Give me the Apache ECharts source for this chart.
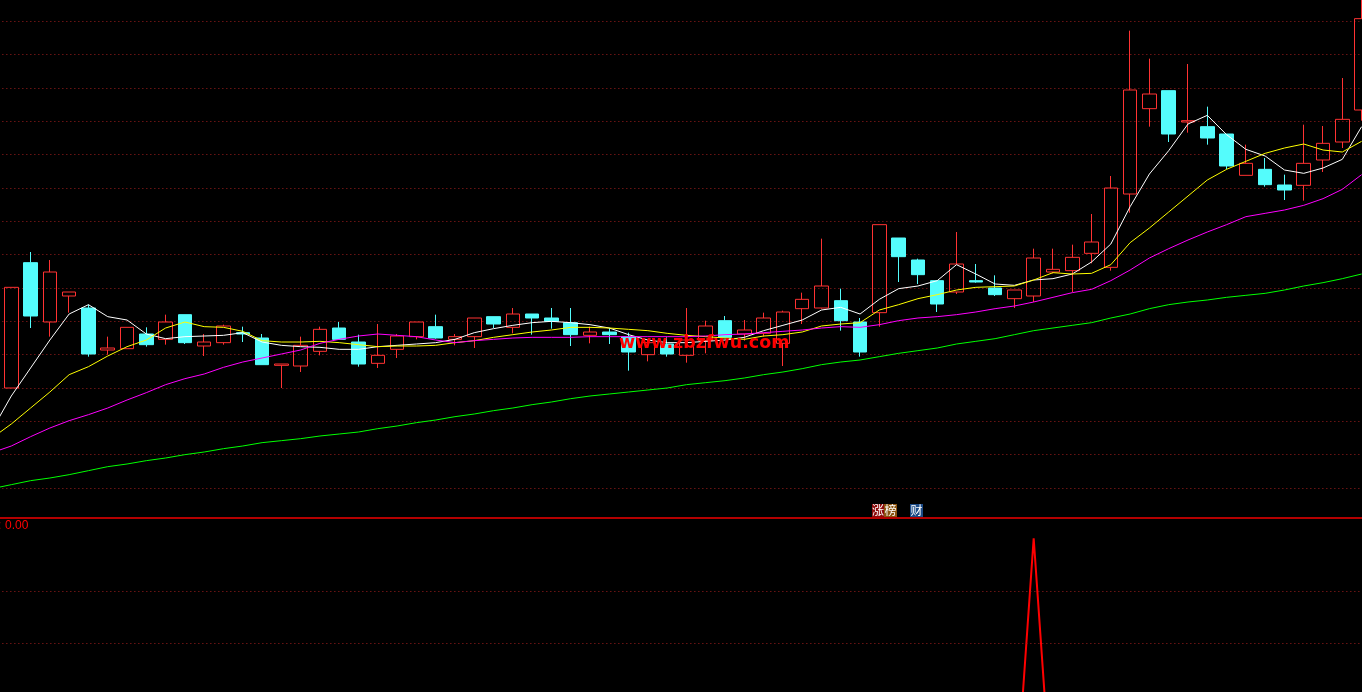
<!DOCTYPE html>
<html>
<head>
<meta charset="utf-8">
<script src="https://cdn.jsdelivr.net/npm/echarts@6/dist/echarts.min.js"></script>
<style>
html,body{margin:0;padding:0;background:#000;}
#chart{width:1362px;height:692px;}
</style>
</head>
<body>
<div id="chart"></div>
<script>
// bar labels (first bar is the one just left of the visible area, only its MA values show)
const categories = ['b0','b1','b2','b3','b4','b5','b6','b7','b8','b9','b10','b11','b12','b13','b14','b15','b16','b17','b18','b19','b20','b21','b22','b23','b24','b25','b26','b27','b28','b29','b30','b31','b32','b33','b34','b35','b36','b37','b38','b39','b40','b41','b42','b43','b44','b45','b46','b47','b48','b49','b50','b51','b52','b53','b54','b55','b56','b57','b58','b59','b60','b61','b62','b63','b64','b65','b66','b67','b68','b69','b70','b71'];

const openPrices = [null,11.50,13.38,12.49,12.88,12.70,12.07,12.09,12.31,12.23,12.60,12.13,12.18,12.33,12.25,11.84,11.83,12.05,12.40,12.19,11.87,12.08,12.27,12.42,12.23,12.27,12.57,12.41,12.61,12.55,12.48,12.29,12.34,12.27,12.00,12.16,11.99,12.21,12.51,12.31,12.32,12.17,12.69,12.70,12.81,12.49,12.63,13.75,13.42,13.11,12.94,13.11,13.00,12.84,12.88,13.24,13.26,13.52,13.31,14.41,15.69,15.96,15.49,15.42,15.31,14.69,14.78,14.545,14.54,14.92,15.19,15.67];
const closePrices = [null,13.01,12.58,13.24,12.94,12.01,12.10,12.41,12.15,12.49,12.18,12.19,12.43,12.31,11.85,11.86,12.14,12.38,12.23,11.86,11.99,12.28,12.49,12.25,12.27,12.55,12.46,12.61,12.55,12.50,12.30,12.34,12.30,12.04,12.18,12.01,12.22,12.43,12.26,12.37,12.55,12.64,12.83,13.03,12.51,12.04,13.95,13.47,13.20,12.76,13.36,13.09,12.90,12.97,13.45,13.28,13.46,13.69,14.50,15.97,15.91,15.31,15.51,15.25,14.83,14.87,14.55,14.47,14.87,15.17,15.53,17.04];
const lowPrices = [null,11.50,12.40,12.27,12.63,11.97,12.00,12.09,12.12,12.15,12.16,11.98,12.15,12.19,11.85,11.50,11.74,11.99,12.22,11.82,11.80,11.95,12.23,12.24,12.14,12.10,12.40,12.32,12.30,12.39,12.13,12.17,12.16,11.76,11.90,11.97,11.88,12.02,12.26,12.21,12.27,11.83,12.46,12.69,12.36,11.97,12.42,13.09,13.06,12.64,12.91,13.08,12.88,12.70,12.79,13.22,12.94,13.37,13.26,14.13,15.42,15.19,15.33,15.15,14.78,14.69,14.52,14.32,14.31,14.74,15.10,15.51];
const highPrices = [null,13.01,13.54,13.42,12.94,12.75,12.27,12.41,12.41,12.60,12.60,12.31,12.45,12.42,12.31,11.86,12.27,12.42,12.49,12.30,12.46,12.31,12.49,12.60,12.31,12.55,12.57,12.70,12.61,12.70,12.70,12.42,12.40,12.33,12.22,12.26,12.70,12.51,12.58,12.52,12.63,12.66,12.93,13.74,12.99,12.55,13.95,13.75,13.44,13.11,13.84,13.36,13.19,12.97,13.59,13.59,13.65,14.11,14.68,16.86,16.44,15.96,16.36,15.72,15.31,15.15,14.95,14.70,15.45,15.43,16.15,17.35];

const ma5 = [10.87,11.38,11.80,12.22,12.61,12.75,12.57,12.52,12.31,12.24,12.27,12.28,12.29,12.33,12.19,12.14,12.12,12.11,12.08,12.08,12.12,12.14,12.16,12.18,12.23,12.33,12.39,12.44,12.48,12.50,12.48,12.45,12.40,12.30,12.22,12.18,12.18,12.20,12.22,12.26,12.36,12.44,12.52,12.67,12.71,12.61,12.83,12.99,13.03,13.11,13.35,13.21,13.06,13.04,13.12,13.14,13.21,13.39,13.66,14.22,14.71,15.06,15.46,15.59,15.30,15.08,14.98,14.77,14.72,14.80,14.93,15.42];
const ma10 = [10.75,10.96,11.20,11.44,11.70,11.82,11.98,12.12,12.22,12.40,12.49,12.42,12.41,12.35,12.21,12.19,12.19,12.20,12.18,12.15,12.12,12.13,12.13,12.14,12.18,12.21,12.26,12.30,12.34,12.37,12.41,12.41,12.40,12.38,12.36,12.32,12.29,12.27,12.25,12.23,12.28,12.30,12.34,12.43,12.46,12.48,12.67,12.75,12.84,12.90,12.97,13.01,13.02,13.03,13.12,13.23,13.21,13.22,13.35,13.68,13.90,14.14,14.38,14.62,14.78,14.90,15.02,15.10,15.16,15.07,15.04,15.20];
const ma20 = [10.53,10.63,10.77,10.90,11.01,11.10,11.20,11.32,11.43,11.55,11.64,11.71,11.81,11.89,11.95,12.01,12.07,12.17,12.23,12.28,12.31,12.29,12.27,12.22,12.18,12.21,12.23,12.25,12.26,12.26,12.26,12.27,12.27,12.27,12.27,12.27,12.27,12.28,12.30,12.31,12.33,12.35,12.37,12.40,12.42,12.41,12.45,12.51,12.55,12.57,12.60,12.64,12.69,12.73,12.79,12.86,12.93,12.98,13.11,13.27,13.45,13.59,13.72,13.84,13.95,14.07,14.12,14.17,14.24,14.34,14.48,14.70];
const ma60 = [9.99,10.05,10.11,10.15,10.20,10.26,10.32,10.36,10.41,10.45,10.50,10.54,10.59,10.63,10.68,10.71,10.74,10.78,10.81,10.84,10.89,10.93,10.98,11.02,11.07,11.11,11.16,11.20,11.25,11.29,11.34,11.38,11.41,11.44,11.47,11.50,11.55,11.58,11.61,11.65,11.70,11.74,11.79,11.85,11.89,11.92,11.97,12.02,12.06,12.10,12.16,12.20,12.24,12.30,12.36,12.40,12.44,12.48,12.55,12.61,12.69,12.75,12.79,12.82,12.86,12.89,12.92,12.97,13.03,13.08,13.14,13.21];

// lower indicator panel: signal (fires once)
const signal = [0,0,0,0,0,0,0,0,0,0,0,0,0,0,0,0,0,0,0,0,0,0,0,0,0,0,0,0,0,0,0,0,0,0,0,0,0,0,0,0,0,0,0,0,0,0,0,0,0,0,0,0,0,0,1,0,0,0,0,0,0,0,0,0,0,0,0,0,0,0,0,0];
const lowerGridLevels = [0.8085, 0.618];
const indicatorValueText = '0.00';
const tagTexts = ['涨', '榜', '财'];
const watermarkText = 'www.zbzfwu.com';

const candleData = openPrices.map((o, i) => o == null ? '-' : [o, closePrices[i], lowPrices[i], highPrices[i]]);

const gridColor = '#a01e1e';
const chart = echarts.init(document.getElementById('chart'), null, {renderer: 'canvas'});

const lineSeries = (data, color) => ({
  type: 'line', xAxisIndex: 0, yAxisIndex: 0, data: data,
  showSymbol: false, symbol: 'none', clip: false, smooth: false,
  lineStyle: {color: color, width: 1}, silent: true, z: 3
});

const option = {
  backgroundColor: '#000000',
  animation: false,
  grid: [
    {left: -17.64, top: -12, width: 1388.9, height: 500, outerBoundsMode: 'none', containLabel: false},
    {left: -17.64, top: 518, width: 1388.9, height: 297, outerBoundsMode: 'none', containLabel: false}
  ],
  xAxis: [
    {type: 'category', gridIndex: 0, data: categories, boundaryGap: true, show: false},
    {type: 'category', gridIndex: 1, data: categories, boundaryGap: true, show: false}
  ],
  yAxis: [
    {type: 'value', gridIndex: 0, min: 10, max: 17.5, interval: 0.5,
     axisLine: {show: false}, axisTick: {show: false}, axisLabel: {show: false},
     splitLine: {show: true, lineStyle: {color: gridColor, width: 1, type: [1, 3]}}},
    {type: 'value', gridIndex: 1, min: 0, max: 1.0733,
     axisLine: {show: false}, axisTick: {show: false}, axisLabel: {show: false},
     splitLine: {show: false}}
  ],
  series: [
    {
      type: 'candlestick', xAxisIndex: 0, yAxisIndex: 0, data: candleData,
      barWidth: 14, clip: false, silent: true, z: 2,
      itemStyle: {color: 'transparent', color0: '#54fcfc', borderColor: '#ff3232', borderColor0: '#54fcfc', borderWidth: 1}
    },
    lineSeries(ma5, '#ffffff'),
    lineSeries(ma10, '#ffff00'),
    lineSeries(ma20, '#ff00ff'),
    lineSeries(ma60, '#00ff00'),
    {
      type: 'line', xAxisIndex: 1, yAxisIndex: 1, data: signal,
      showSymbol: false, symbol: 'none', clip: false, silent: true,
      lineStyle: {color: '#ff0000', width: 2},
      markLine: {
        silent: true, symbol: 'none', label: {show: false},
        lineStyle: {color: gridColor, width: 1, type: [1, 3]},
        data: lowerGridLevels.map(v => ({yAxis: v}))
      }
    }
  ],
  graphic: [
    {type: 'line', shape: {x1: 0, y1: 518, x2: 1362, y2: 518}, style: {stroke: '#b40000', lineWidth: 2}, z: 10},
    {type: 'text', left: -2, top: 520, style: {text: ':', font: '12px "Liberation Sans"', fill: '#ff0000'}, z: 10},
    {type: 'text', left: 5, top: 520, style: {text: indicatorValueText, font: '12px "Liberation Sans"', fill: '#ff0000'}, z: 10},
    {type: 'rect', shape: {x: 872, y: 504, width: 12, height: 13}, style: {fill: '#8c0a0a'}, z: 10},
    {type: 'rect', shape: {x: 884, y: 504, width: 13, height: 13}, style: {fill: '#8a5410'}, z: 10},
    {type: 'rect', shape: {x: 910, y: 504, width: 13, height: 13}, style: {fill: '#1b4a86'}, z: 10},
    {type: 'text', left: 872, top: 504, style: {text: tagTexts[0], font: '12px "Noto Sans CJK SC"', fill: '#ffffff'}, z: 11},
    {type: 'text', left: 884.5, top: 504, style: {text: tagTexts[1], font: '12px "Noto Sans CJK SC"', fill: '#ffffff'}, z: 11},
    {type: 'text', left: 910.5, top: 504, style: {text: tagTexts[2], font: '12px "Noto Sans CJK SC"', fill: '#ffffff'}, z: 11},
    {type: 'text', left: 619, top: 334, style: {text: watermarkText, font: 'bold 17.5px "DejaVu Sans"', fill: '#ff0000', shadowColor: '#6a0000', shadowOffsetX: 1, shadowOffsetY: 1, shadowBlur: 0}, z: 12}
  ]
};
chart.setOption(option);
</script>
</body>
</html>
